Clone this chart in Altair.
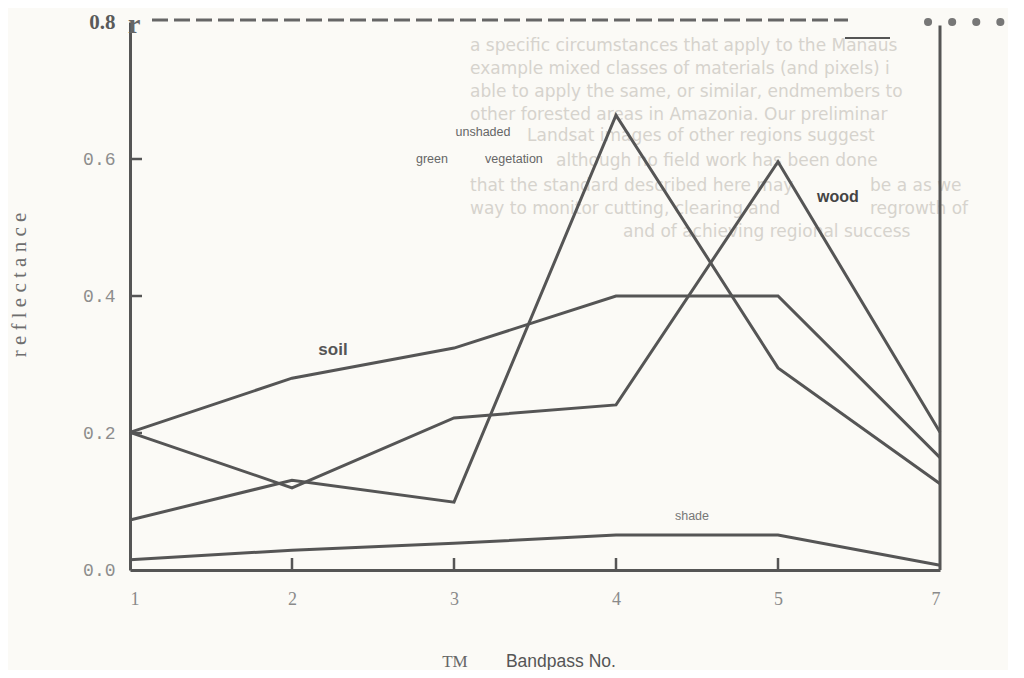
import altair as alt
import pandas as pd

# ---- data ----
bands = ["1", "2", "3", "4", "5", "7"]
band_idx = [0, 1, 2, 3, 4, 5]
soil = [0.201, 0.280, 0.324, 0.400, 0.400, 0.164]
green_veg = [0.073, 0.131, 0.099, 0.664, 0.295, 0.126]
wood = [0.201, 0.120, 0.222, 0.241, 0.596, 0.201]
shade = [0.015, 0.029, 0.039, 0.051, 0.051, 0.007]
series_names = ["soil", "green vegetation", "wood", "shade"]
y_ticks = [0.0, 0.2, 0.4, 0.6, 0.8]
inner_y_ticks = [0.2, 0.4, 0.6]
inner_x_ticks = [1, 2, 3, 4]
bleed_lines = [
    "a specific circumstances that apply to the Manaus",
    "example mixed classes of materials (and pixels) i",
    "able to apply the same, or similar, endmembers to",
    "other forested areas in Amazonia. Our preliminar",
    "Landsat images of other regions suggest",
    "although no field work has been done",
    "that the standard described here may",
    "be a as we",
    "way to monitor cutting, clearing and",
    "regrowth of",
    "and of achieving regional success",
]

rows = []
for name, vals in zip(series_names, [soil, green_veg, wood, shade]):
    for i, v in zip(band_idx, vals):
        rows.append({"series": name, "idx": i, "value": v})
df = pd.DataFrame(rows)

LINE = "#555555"
label_expr = "[" + ",".join("'%s'" % b for b in bands) + "][datum.value]"

x_enc = alt.X(
    "idx:Q",
    scale=alt.Scale(domain=[0, 5], nice=False, zero=False),
    axis=alt.Axis(
        values=band_idx, labelExpr=label_expr, title=None, grid=False, ticks=False,
        domainColor=LINE, domainWidth=3, labelFont="Liberation Serif", labelFontSize=18,
        labelColor="#8a8a8a", labelPadding=20,
    ),
)
top_test = "datum.value > 0.7"
y_enc = alt.Y(
    "value:Q",
    scale=alt.Scale(domain=[0, 0.8], nice=False),
    axis=alt.Axis(
        values=y_ticks, format=".1f", title=None, grid=False, ticks=False,
        domainColor=LINE, domainWidth=3, labelPadding=15,
        labelFont={"condition": {"test": top_test, "value": "Liberation Serif"}, "value": "Liberation Mono"},
        labelFontWeight={"condition": {"test": top_test, "value": "bold"}, "value": "normal"},
        labelColor={"condition": {"test": top_test, "value": "#5a5a5a"}, "value": "#8d8d8d"},
        labelFontSize={"condition": {"test": top_test, "value": 21}, "value": 18},
    ),
)

lines = alt.Chart(df).mark_line(color=LINE, strokeWidth=3).encode(
    x=x_enc, y=y_enc, detail="series:N", order="idx:Q"
)

one = pd.DataFrame({"a": [0]})


def ann(text, x, y, **kw):
    return alt.Chart(one).mark_text(text=text, **kw).encode(x=alt.datum(x), y=alt.datum(y))


# frame pieces
right_edge = alt.Chart(one).mark_rule(color=LINE, strokeWidth=3).encode(
    x=alt.datum(5), y=alt.datum(0), y2=alt.datum(0.795)
)
top_dash = alt.Chart(one).mark_rule(color="#666666", strokeWidth=3, strokeDash=[16, 6]).encode(
    x=alt.value(22), x2=alt.value(718), y=alt.value(-2)
)
top_dots = alt.Chart(one).mark_rule(
    color="#777777", strokeWidth=8, strokeDash=[0.1, 24], strokeCap="round"
).encode(x=alt.value(798), x2=alt.value(880), y=alt.value(0))
small_dash = alt.Chart(one).mark_rule(color=LINE, strokeWidth=2).encode(
    x=alt.value(715), x2=alt.value(760), y=alt.value(16)
)
r_glyph = alt.Chart(one).mark_text(
    text="r", font="Liberation Serif", fontWeight="bold", fontSize=28, color="#666666",
    align="left", baseline="alphabetic",
).encode(x=alt.value(-2), y=alt.value(11))

ytick_df = pd.DataFrame({"v": inner_y_ticks})
ytick_marks = alt.Chart(ytick_df).mark_rule(color=LINE, strokeWidth=2.5).encode(
    y="v:Q", x=alt.value(0), x2=alt.value(12)
)
xtick_df = pd.DataFrame({"i": inner_x_ticks})
xtick_marks = alt.Chart(xtick_df).mark_rule(color=LINE, strokeWidth=2.5).encode(
    x="i:Q", y=alt.value(548), y2=alt.value(536)
)

# bleed-through text from the facing page (it runs behind the "wood" label)
row_y = [46, 69, 92, 115, 136, 161, 186, 186, 209, 209, 232]
row_x = [470, 470, 470, 470, 527, 556, 470, 870, 470, 870, 623]
bleed = []
for t, py, px in zip(bleed_lines, row_y, row_x):
    bleed.append(ann(t, (px - 130) / 162.0, (570 - py) / 685.0, align="left", baseline="middle",
                     font="DejaVu Sans", fontSize=17, color="#d6d3cd"))

labels = [
    ann("soil", 1.253, 0.321, font="Liberation Sans", fontWeight="bold", fontSize=17, color="#555555"),
    ann("wood", 4.37, 0.545, font="Liberation Sans", fontWeight="bold", fontSize=16, color="#444444"),
    ann("unshaded", 2.179, 0.640, font="Liberation Sans", fontSize=12.5, color="#666666"),
    ann("green", 1.864, 0.600, font="Liberation Sans", fontSize=12.5, color="#666666"),
    ann("vegetation", 2.370, 0.600, font="Liberation Sans", fontSize=12.5, color="#666666"),
    ann("shade", 3.469, 0.079, font="Liberation Sans", fontSize=12.5, color="#777777"),
]

x_title_a = ann("TM", 2.006, -0.134, font="Liberation Serif", fontSize=17, color="#666666")
x_title_b = ann("Bandpass No.", 2.660, -0.134, font="Liberation Sans", fontSize=17.5, color="#555555")
y_title = alt.Chart(one).mark_text(
    text="r e f l e c t a n c e", angle=270, font="Liberation Serif", fontSize=21, color="#6e6e6e"
).encode(x=alt.value(-110), y=alt.value(263))

chart = alt.layer(
    *bleed, lines, right_edge, top_dash, top_dots, small_dash, r_glyph,
    ytick_marks, xtick_marks, *labels, x_title_a, x_title_b, y_title,
).properties(
    width=810, height=548,
    padding={"left": 122, "top": 14, "right": 68, "bottom": 100},
    autosize=alt.AutoSizeParams(type="none"),
).configure(background="#fbfaf6").configure_view(stroke=None)

chart.save("out.html", embed_options={"renderer": "svg", "actions": False})
